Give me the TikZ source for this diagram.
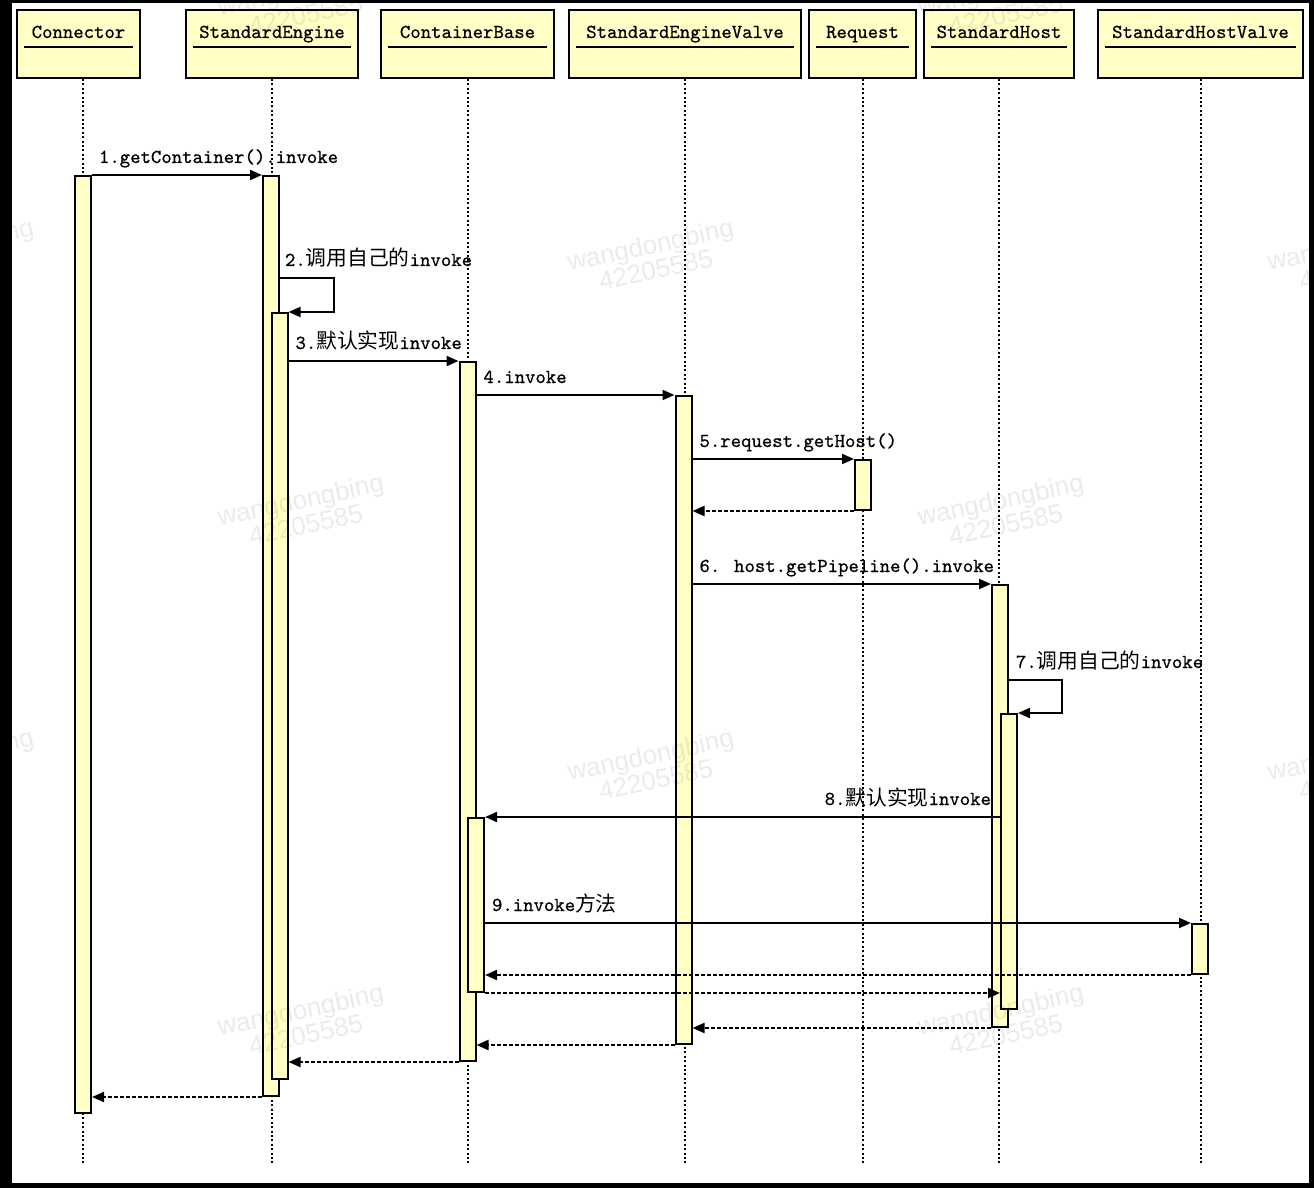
\documentclass[tikz,border=0pt]{standalone}
\usepackage{fontspec}
\newfontfamily\lblfont{Latin Modern Mono}[FakeBold=0.6]
\newfontfamily\cjk{Noto Sans CJK SC}[Scale=1.05]
\newfontfamily\wmfont{Liberation Sans}
\usetikzlibrary{arrows.meta, positioning, calc}
\definecolor{boxfill}{HTML}{FFFFC6}

\begin{document}
\begin{tikzpicture}[
    x=0.5pt, y=-0.5pt,
    every node/.style={font=\lblfont\fontsize{9.9}{12}\selectfont},
    head/.style={draw=black, line width=1pt, fill=boxfill,
                 minimum height=34pt, inner sep=0pt},
    headtxt/.style={anchor=base, inner sep=0pt},
    uline/.style={line width=0.8pt},
    lifeline/.style={line width=1pt, dash pattern=on 1pt off 1.2pt},
    act/.style={draw=black, line width=1pt, fill=boxfill,
                minimum width=8pt, anchor=north, inner sep=0pt},
    msg/.style={line width=1pt, -{Triangle[length=6pt,width=5pt]}},
    ret/.style={msg, dash pattern=on 2pt off 1pt},
    lbl/.style={at start, anchor=base west, xshift=3pt, yshift=6pt, inner sep=0pt},
    lblr/.style={at start, anchor=base east, xshift=-4pt, yshift=6pt, inner sep=0pt},
    wm/.style={font=\wmfont\fontsize{13}{13}\selectfont, align=center,
               rotate=12, text=black, text opacity=0.08},
]
\useasboundingbox (0,0) rectangle (1314,1188);

% ---------------------------------------------------------------- frame
\fill[black] (0,0) rectangle (1314,1188);
\fill[white] (12,3) rectangle (1309,1183);

% ---------------------------------------------------------------- classes
\foreach \n/\x/\w/\t in {connector/78.5/123/Connector, engine/272/172/StandardEngine,
        base/467.5/173/ContainerBase, evalve/685/232/StandardEngineValve,
        request/862.5/107/Request, host/999/150/StandardHost,
        hvalve/1200.5/205/StandardHostValve} {
    \node[head, minimum width=\w*0.5pt] (\n) at (\x,44) {};
    \node[headtxt] (\n-t) at (\x,38) {\t};
    \draw[uline] ([xshift=4pt,yshift=-19pt]\n.north west)
        -- ([xshift=-4pt,yshift=-19pt]\n.north east);
}

% ---------------------------------------------------------------- lifelines
\coordinate (lifeend) at (0,1165);
\draw[lifeline] ([xshift=2pt]connector.south) -- ([xshift=2pt]connector.south |- lifeend);
\foreach \n in {engine, base, evalve, request, host, hvalve}
    \draw[lifeline] (\n.south) -- (\n.south |- lifeend);

% ---------------------------------------------------------------- activations
\node[act, minimum height=468.5pt] (cn1) at (83,175) {};
\node[act, minimum height=460pt]   (se1) at (271,175) {};
\node[act, minimum height=383pt]   (se2) at (279.5,312) {};
\node[act, minimum height=349.5pt] (cb1) at (467.5,361) {};
\node[act, minimum height=87pt]    (cb2) at (476,817) {};
\node[act, minimum height=324pt]   (ev1) at (683.5,395) {};
\node[act, minimum height=25pt]    (rq1) at (863,459) {};
\node[act, minimum height=221pt]   (ho1) at (1000,584) {};
\node[act, minimum height=147.5pt] (ho2) at (1009,713) {};
\node[act, minimum height=25pt]    (hv1) at (1200,923) {};

% ---------------------------------------------------------------- calls
\draw[msg] (cn1.north east) -- node[lbl] (m1) {1.getContainer().invoke} (se1.north west);
\draw[msg] (se1.east |- 0,278) -- node[lbl, xshift=-1pt] (m2) {2.{\cjk 调用自己的}invoke}
    ++(54,0) |- (se2.north east);
\draw[msg] (se2.east |- cb1.north) -- node[lbl] (m3) {3.{\cjk 默认实现}invoke} (cb1.north west);
\draw[msg] (cb1.east |- ev1.north) -- node[lbl] (m4) {4.invoke} (ev1.north west);
\draw[msg] (ev1.east |- rq1.north) -- node[lbl] (m5) {5.request.getHost()} (rq1.north west);
\draw[ret] (rq1.south west) -- (ev1.east |- rq1.south);
\draw[msg] (ev1.east |- ho1.north) -- node[lbl] (m6) {6. host.getPipeline().invoke} (ho1.north west);
\draw[msg] (ho1.east |- 0,680) -- node[lbl] (m7) {7.{\cjk 调用自己的}invoke}
    ++(53,0) |- (ho2.north east);
\draw[msg] (ho2.west |- cb2.north) -- node[lblr] (m8) {8.{\cjk 默认实现}invoke} (cb2.north east);
\draw[msg] (cb2.east |- hv1.north) -- node[lbl] (m9) {9.invoke{\cjk 方法}} (hv1.north west);

% ---------------------------------------------------------------- returns
\draw[ret] (hv1.south west) -- (cb2.east |- hv1.south);
\draw[ret] (cb2.south east) -- (ho2.west |- cb2.south);
\draw[ret] (ho1.south west) -- (ev1.east |- ho1.south);
\draw[ret] (ev1.south west) -- (cb1.east |- ev1.south);
\draw[ret] (cb1.south west) -- (se2.east |- cb1.south);
\draw[ret] (se1.south west) -- (cn1.east |- se1.south);

% ---------------------------------------------------------------- watermark
\begin{scope}
\clip (12,3) rectangle (1309,1183);
\foreach \x/\y [count=\k] in {303/2, 1003/2, -47/257, 653/257, 1353/257, 303/512,
        1003/512, -47/767, 653/767, 1353/767, 303/1022, 1003/1022}
    \node[wm] (wm\k) at (\x,\y) {wangdongbing\\42205585};
\end{scope}

\end{tikzpicture}
\end{document}
